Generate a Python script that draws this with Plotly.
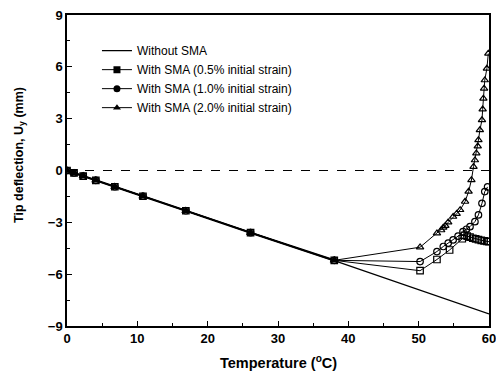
import plotly.graph_objects as go

# ---- data ----
common_T = [0, 1.0, 2.3, 4.1, 6.8, 10.8, 16.9, 26.1, 38.0]
common_U = [0, -0.14, -0.32, -0.57, -0.94, -1.49, -2.33, -3.6, -5.2]

without_T = [0, 38.0, 60]
without_U = [0, -5.22, -8.3]

sma05_T = [50.2, 52.6, 54.4, 56.2, 56.5, 56.9, 57.3, 57.7, 58.1, 58.5, 58.9, 59.3, 59.7, 60.0]
sma05_U = [-5.8, -5.15, -4.6, -3.95, -3.75, -3.8, -3.86, -3.92, -3.96, -4.0, -4.04, -4.07, -4.1, -4.12]

sma10_T = [50.2, 52.6, 53.5, 54.2, 54.9, 55.6, 56.3, 56.8, 57.3, 58.0, 58.5, 59.0, 59.4, 59.8]
sma10_U = [-5.27, -4.69, -4.4, -4.2, -4.02, -3.8, -3.54, -3.4, -3.25, -2.96, -2.57, -1.9, -1.22, -0.95]

sma20_T = [50.2, 52.6, 53.2, 53.5, 53.8, 54.2, 54.9, 55.4, 55.9, 56.6, 57.1, 57.5, 57.8, 58.0, 58.2, 58.4, 58.5,
           58.7, 59.0, 59.1, 59.2, 59.3, 59.4, 59.7, 59.9]
sma20_U = [-4.44, -3.63, -3.45, -3.3, -3.2, -3.0, -2.67, -2.5, -2.28, -1.8, -1.22, -0.55, 0.22, 0.6, 1.0, 1.4, 1.76,
           2.34, 2.92, 3.54, 4.17, 4.75, 5.23, 5.9, 6.77]

legend_names = ["Without SMA", "With SMA (0.5% initial strain)",
                "With SMA (1.0% initial strain)", "With SMA (2.0% initial strain)"]

x_ticks = [0, 10, 20, 30, 40, 50, 60]
y_ticks = [-9, -6, -3, 0, 3, 6, 9]

FONT = "Liberation Sans, Arial, sans-serif"

fig = go.Figure()

fig.add_trace(go.Scatter(x=without_T, y=without_U, mode="lines",
                         line=dict(color="black", width=1.3),
                         name=legend_names[0], showlegend=True))

series = [
    (sma05_T, sma05_U, "square-open", "square", legend_names[1]),
    (sma10_T, sma10_U, "circle-open", "circle", legend_names[2]),
    (sma20_T, sma20_U, "triangle-up-open", "triangle-up", legend_names[3]),
]
for T, U, sym, lsym, nm in series:
    fig.add_trace(go.Scatter(x=common_T + T, y=common_U + U, mode="lines+markers",
                             line=dict(color="black", width=1),
                             marker=dict(symbol=sym, size=6.5, color="black",
                                         line=dict(width=1.2, color="black")),
                             name=nm, showlegend=False))
    fig.add_trace(go.Scatter(x=[None], y=[None], mode="lines+markers",
                             line=dict(color="black", width=1),
                             marker=dict(symbol=lsym, size=7, color="black"),
                             name=nm, showlegend=True))

fig.add_trace(go.Scatter(x=common_T, y=common_U, mode="lines+markers",
                         line=dict(color="black", width=2.2),
                         marker=dict(symbol="triangle-up", size=8, color="black"),
                         showlegend=False, hoverinfo="skip"))

fig.add_hline(y=0, line=dict(color="black", width=1, dash="dash"))

fig.add_annotation(text="Tip deflection, U<sub>y</sub> (mm)", textangle=-90,
                   xref="paper", yref="paper", x=-0.113, y=0.551,
                   xanchor="center", yanchor="middle", showarrow=False,
                   font=dict(family=FONT, size=12.5, color="black", weight="bold"))
fig.add_annotation(text="Temperature (<sup>o</sup>C)",
                   xref="paper", yref="paper", x=0.5, y=-0.116,
                   xanchor="center", yanchor="middle", showarrow=False,
                   font=dict(family=FONT, size=14.5, color="black", weight="bold"))

fig.update_layout(
    width=496, height=375,
    margin=dict(l=67, r=7, t=15, b=49, autoexpand=False),
    paper_bgcolor="white", plot_bgcolor="white",
    font=dict(family=FONT, color="black"),
    legend=dict(x=0.071, y=0.932, xanchor="left", yanchor="top",
                bgcolor="rgba(0,0,0,0)", font=dict(family=FONT, size=12, color="black"),
                itemwidth=30, tracegroupgap=0),
    xaxis=dict(range=[0, 60], tickvals=x_ticks, automargin=False,
               ticklabeloverflow="allow",
               ticks="inside", ticklen=5, tickwidth=1.2, tickcolor="black",
               minor=dict(tickvals=[5, 15, 25, 35, 45, 55], ticks="inside", ticklen=3, tickcolor="black"),
               showline=True, linecolor="black", linewidth=1.5, mirror=True,
               showgrid=False, zeroline=False,
               tickfont=dict(family=FONT, size=13, color="black", weight="bold")),
    yaxis=dict(range=[-9, 9], tickvals=y_ticks, automargin=False,
               ticklabeloverflow="allow",
               ticks="inside", ticklen=5, tickwidth=1.2, tickcolor="black",
               minor=dict(tickvals=[-7.5, -4.5, -1.5, 1.5, 4.5, 7.5], ticks="inside", ticklen=3, tickcolor="black"),
               showline=True, linecolor="black", linewidth=1.5, mirror=True,
               showgrid=False, zeroline=False,
               tickfont=dict(family=FONT, size=13, color="black", weight="bold")),
)

fig.write_html("out.html", config={"displayModeBar": False},
               post_script="document.body.style.margin='0';document.body.style.overflow='hidden';")
